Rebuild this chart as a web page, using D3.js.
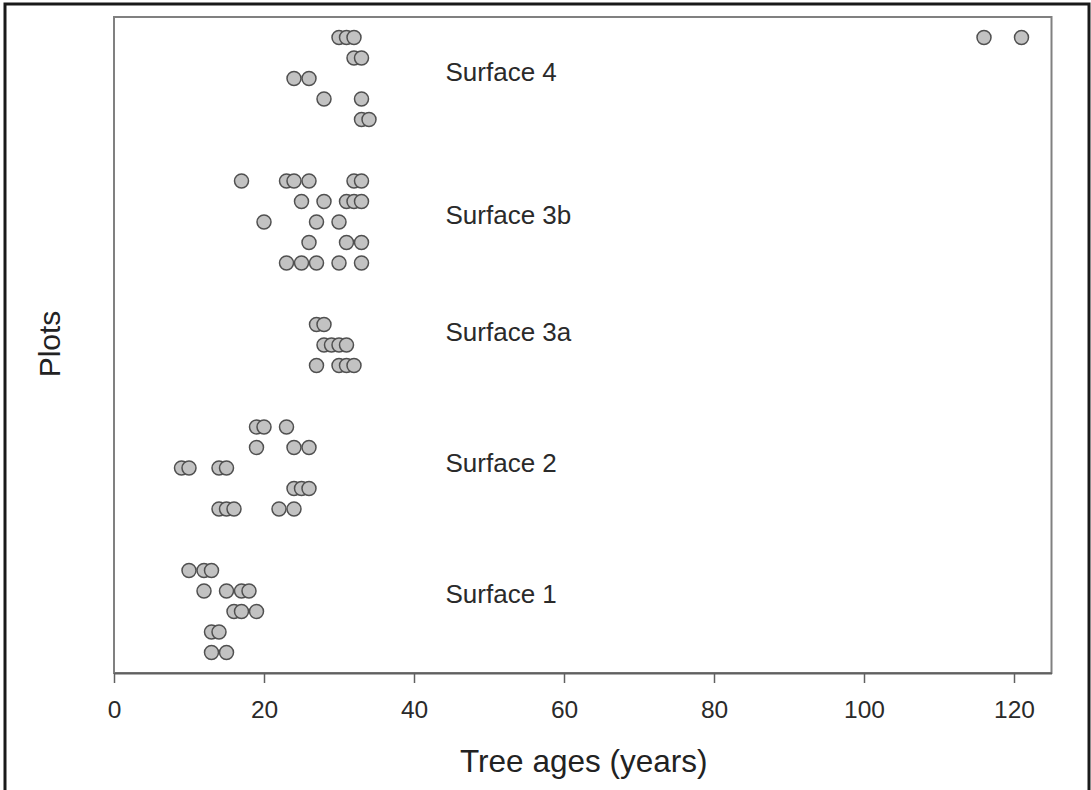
<!DOCTYPE html>
<html><head><meta charset="utf-8">
<script src="https://cdn.jsdelivr.net/npm/d3@7"></script>
<style>
html,body{margin:0;padding:0;background:#fff;}
svg{display:block;font-family:"Liberation Sans",Arial,sans-serif;}
</style></head>
<body>
<script>
// ---- data ----
const surfaces = ["Surface 1", "Surface 2", "Surface 3a", "Surface 3b", "Surface 4"];
const startRows = [1, 8, 15, 20, 27];          // first plot row of each surface
const labelRows = [3.85, 10.25, 16.63, 22.34, 29.32];
// tree ages per plot row (bottom row first) for each surface
const surface1 = [[13, 15], [13, 14], [16, 17, 19], [12, 15, 17, 18], [10, 12, 13]];
const surface2 = [[14, 15, 16, 22, 24], [24, 25, 26], [9, 10, 14, 15], [19, 24, 26], [19, 20, 23]];
const surface3a = [[27, 30, 31, 32], [28, 29, 30, 31], [27, 28]];
const surface3b = [[23, 25, 27, 30, 33], [26, 31, 33], [20, 27, 30], [25, 28, 31, 32, 33], [17, 23, 24, 26, 32, 33]];
const surface4 = [[33, 34], [28, 33], [24, 26], [32, 33], [30, 31, 32, 116, 121]];
const xTicks = [0, 20, 40, 60, 80, 100, 120];
const xTitle = "Tree ages (years)";
const yTitle = "Plots";

const W = 1091, H = 790;
const svg = d3.select("body").append("svg").attr("width", W).attr("height", H);

// outer border
svg.append("rect").attr("x", 5).attr("y", 4).attr("width", 1084).attr("height", 800)
  .attr("fill", "none").attr("stroke", "#1a1a1a").attr("stroke-width", 3);

const m = {left: 114, top: 17, bottom: 673};
const x = d3.scaleLinear().domain([0, 125]).range([m.left, m.left + 7.5 * 125]);
const y = d3.scaleLinear().domain([0, 32]).range([m.bottom, m.top]);

// frame
svg.append("rect").attr("x", m.left).attr("y", m.top)
  .attr("width", x(125) - m.left).attr("height", m.bottom - m.top)
  .attr("fill", "none").attr("stroke", "#808080").attr("stroke-width", 2);

// x axis
const xAxis = svg.append("g").attr("transform", `translate(0,${m.bottom})`)
  .call(d3.axisBottom(x).tickValues(xTicks).tickSize(10).tickPadding(18).tickSizeOuter(0));
xAxis.attr("font-size", null).attr("font-family", null);
xAxis.select(".domain").attr("stroke", "#606060").attr("stroke-width", 2);
xAxis.selectAll(".tick line").attr("stroke", "#606060").attr("stroke-width", 1.5);
xAxis.selectAll(".tick text").style("font-size", "24.5px").attr("fill", "#2a2a2a");

// points
const allGroups = [surface1, surface2, surface3a, surface3b, surface4];
const points = [];
allGroups.forEach((g, gi) => {
  g.forEach((ages, ri) => {
    ages.slice().sort((a, b) => a - b).forEach(a => points.push({row: startRows[gi] + ri, age: a}));
  });
});
svg.append("g").selectAll("circle").data(points).join("circle")
  .attr("cx", d => x(d.age)).attr("cy", d => y(d.row)).attr("r", 7)
  .attr("fill", "#c2c2c2").attr("stroke", "#505050").attr("stroke-width", 1.5);

// surface labels
svg.append("g").selectAll("text").data(surfaces).join("text")
  .attr("x", x(44.2)).attr("y", (d, i) => y(labelRows[i]))
  .attr("dy", "0.35em").style("font-size", "26px").attr("fill", "#2a2a2a").text(d => d);

// axis titles
svg.append("text").attr("x", (m.left + x(125)) / 2 + 1).attr("y", 772)
  .attr("text-anchor", "middle").style("font-size", "31.5px").attr("fill", "#222").text(xTitle);
svg.append("text").attr("transform", `translate(60,344) rotate(-90)`)
  .attr("text-anchor", "middle").style("font-size", "30px").attr("fill", "#222").text(yTitle);
</script>
</body></html>
